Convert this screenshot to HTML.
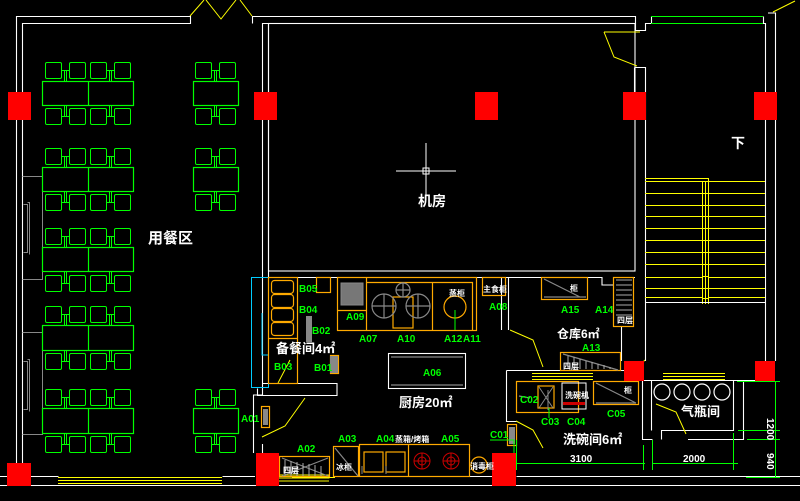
<!DOCTYPE html>
<html><head><meta charset="utf-8"><style>
html,body{margin:0;padding:0;background:#000;}
svg{display:block;}
text{font-family:"Liberation Sans","Noto Sans CJK SC",sans-serif;}
.g{fill:#0f0;font-size:10px;font-weight:bold;}
.w{fill:#fff;font-weight:bold;}
</style></head><body>
<svg width="800" height="501" viewBox="0 0 800 501" xmlns="http://www.w3.org/2000/svg">
<rect width="800" height="501" fill="#000"/>
<defs>
<g id="chairs2">
 <g fill="none" stroke="#0f0" stroke-width="1">
  <rect x="45.5" y="0.5" width="16" height="16" rx="1.5"/>
  <rect x="69.5" y="0.5" width="16" height="16" rx="1.5"/>
  <rect x="90.5" y="0.5" width="16" height="16" rx="1.5"/>
  <rect x="114.5" y="0.5" width="16" height="16" rx="1.5"/>
  <path d="M61.5 8.5H69.5M106.5 8.5H114.5M64.5 8.5V19M66.5 8.5V19M109.5 8.5V19M111.5 8.5V19"/>
 </g>
</g>
<g id="chairs1">
 <g fill="none" stroke="#0f0" stroke-width="1">
  <rect x="195.5" y="0.5" width="16" height="16" rx="1.5"/>
  <rect x="219.5" y="0.5" width="16" height="16" rx="1.5"/>
  <path d="M211.5 8.5H219.5M214.5 8.5V19M216.5 8.5V19"/>
 </g>
</g>
<g id="chairs2b">
 <g fill="none" stroke="#0f0" stroke-width="1">
  <rect x="45.5" y="3.5" width="16" height="16" rx="1.5"/>
  <rect x="69.5" y="3.5" width="16" height="16" rx="1.5"/>
  <rect x="90.5" y="3.5" width="16" height="16" rx="1.5"/>
  <rect x="114.5" y="3.5" width="16" height="16" rx="1.5"/>
  <path d="M61.5 11.5H69.5M106.5 11.5H114.5M64.5 0V11.5M66.5 0V11.5M109.5 0V11.5M111.5 0V11.5"/>
 </g>
</g>
<g id="chairs1b">
 <g fill="none" stroke="#0f0" stroke-width="1">
  <rect x="195.5" y="3.5" width="16" height="16" rx="1.5"/>
  <rect x="219.5" y="3.5" width="16" height="16" rx="1.5"/>
  <path d="M211.5 11.5H219.5M214.5 0V11.5M216.5 0V11.5"/>
 </g>
</g>
</defs>

<g fill="none" stroke="#fff" stroke-width="1.1">
 <path d="M16.5 485V16.5H190.5V23.5H22.5V463"/>
 <path d="M252.5 23.5V16.5H635.5V23.5H262.5V92"/>
 <path d="M268.5 92V23.5"/>
 <rect x="268.5" y="23.5" width="366.5" height="247.5"/>
 <path d="M635.5 23.5V30.5H645.5V23.5H651.5V16.5"/>
 <path d="M763.5 16.5V23.5H765.5V361M775.5 361V13H768"/>
 <path d="M634.5 67.5H645.5V361M634.5 67.5V92"/>
 <path d="M262.5 120V395H253.5V453M268.5 120V277"/>
 <path d="M0 476.5H58.5M0 485.5H800M222.5 476.5H255"/>
 <path d="M279 476.5H292M335 476.5H492"/>
 <path d="M516.5 476.5H800"/>
 <path d="M268.5 277.5H337M477 277.5H541M587 277.5H602V285H613M633 277.5H635"/>
 <path d="M257.5 388.5V395.5H337V383.5H262"/>
 <path d="M501.5 277.5V330M508.5 277.5V330"/>
 <path d="M633 326.5H621.5V361"/>
 <path d="M506.5 370.5V421.5H516.5"/>
 <path d="M506.5 370.5H560M620 370.5H624"/>
 <path d="M642.5 380.5V439.5H652.5M661.5 439.5V430.5H733.5V380.5M743.5 380.5V439.5H688"/>
 <path d="M651.5 380.5V430.5M642.5 380.5H775"/>
 <path d="M262.5 444V453"/>
 <rect x="388.5" y="353.5" width="77" height="35"/>
</g>
<path d="M651 16.5H763M651 23.5H763" stroke="#0f0" stroke-width="1"/>
<g fill="none" stroke="#ff0" stroke-width="1">
 <path d="M190 16L204 0M206 0L221 19L236 0M240 0L252 16"/>
 <path d="M604 32H640M604 32L614 57L637 66"/>
 <path d="M773 12L795 1"/>
 <path d="M58 477.5H222M58 480.5H222M58 483.5H222"/>
 <path d="M262 475H329V478H262M262 481H329"/>
 <path d="M292 477.5H335" />
 <path d="M305 398L285 426L262 437"/>
 <path d="M290 360L278 383"/>
 <path d="M510 330L533 340L543 367"/>
 <path d="M516 421L533 430L543 448"/>
 <path d="M532 373.5H593M532 376.5H593M532 379.5H593"/>
 <path d="M663 373.5H725M663 376.5H725M663 379.5H725"/>
 <path d="M656 404L676 412L686 434"/>
 <path d="M645 360L635 370"/>
</g>
<g stroke="#ff0" stroke-width="1" fill="none">
 <path d="M645 178.5H708.5V304"/>
 <path d="M702.5 181V304M705.5 181V304"/>
 <path d="M645 181.5H765M645 193.5H765M645 205.5H765M645 216.5H765M645 228.5H765M645 240.5H765M645 252.5H765M645 264.5H765M645 276.5H765M645 288.5H765M645 298.5H765"/>
</g>
<rect x="645" y="270" width="57" height="30" fill="#000"/>
<rect x="709" y="270" width="56" height="30" fill="#000"/>
<path d="M645.5 270V302.5H765M765.5 270V302" stroke="#fff" fill="none"/>
<g stroke="#ff0" fill="none"><path d="M645 277.5H702M645 288.5H702M645 297.5H702M709 277.5H765M709 288.5H765M709 297.5H765"/></g>

<g fill="none" stroke="#888" stroke-width="1">
 <path d="M22.5 176.5H42.5V279.5H22.5M23.5 204.5H27.5V252.5H23.5M27.5 202.5H29.5V254.5"/>
 <path d="M22.5 332.5H42.5V434.5H22.5M23.5 361.5H27.5V409.5H23.5M27.5 359.5H29.5V411.5"/>
</g>

<g fill="none" stroke="#0f0" stroke-width="1.2">
 <rect x="42.5" y="81.5" width="91" height="24"/><path d="M88.5 81.5V105.5"/>
 <rect x="193.5" y="81.5" width="45" height="24"/>
 <rect x="42.5" y="167.5" width="91" height="24"/><path d="M88.5 167.5V191.5"/>
 <rect x="193.5" y="167.5" width="45" height="24"/>
 <rect x="42.5" y="247.5" width="91" height="24"/><path d="M88.5 247.5V271.5"/>
 <rect x="42.5" y="325.5" width="91" height="25"/><path d="M88.5 325.5V350.5"/>
 <rect x="42.5" y="408.5" width="91" height="25"/><path d="M88.5 408.5V433.5"/>
 <rect x="193.5" y="408.5" width="45" height="25"/>
</g>
<use href="#chairs2" x="0" y="62"/><use href="#chairs2b" x="0" y="105"/>
<use href="#chairs1" x="0" y="62"/><use href="#chairs1b" x="0" y="105"/>
<use href="#chairs2" x="0" y="148"/><use href="#chairs2b" x="0" y="191"/>
<use href="#chairs1" x="0" y="148"/><use href="#chairs1b" x="0" y="191"/>
<use href="#chairs2" x="0" y="228"/><use href="#chairs2b" x="0" y="272"/>
<use href="#chairs2" x="0" y="306"/><use href="#chairs2b" x="0" y="350"/>
<use href="#chairs2" x="0" y="389"/><use href="#chairs2b" x="0" y="433"/>
<use href="#chairs1" x="0" y="389"/><use href="#chairs1b" x="0" y="433"/>

<g stroke="#fff" stroke-width="1"><path d="M396 171H456M426 143V200"/><rect x="423" y="168" width="6" height="6" fill="none"/></g>

<rect x="251.5" y="277.5" width="17" height="110" fill="none" stroke="#0cf"/>
<path d="M262 313V355H268" stroke="#0cf" fill="none"/>
<g fill="none" stroke="#fa0" stroke-width="1.2">
 <rect x="268.5" y="277.5" width="29" height="106"/>
 <path d="M268.5 338.5H297.5"/>
 <rect x="271.5" y="280.5" width="22" height="13" rx="3"/>
 <rect x="271.5" y="294.5" width="22" height="13" rx="3"/>
 <rect x="271.5" y="308.5" width="22" height="13" rx="3"/>
 <rect x="271.5" y="322.5" width="22" height="13" rx="3"/>
 <rect x="316.5" y="277.5" width="14" height="15"/>
 <rect x="330.5" y="355.5" width="8" height="18"/>
 <rect x="337.5" y="277.5" width="139" height="53"/>
 <path d="M337.5 310.5H366.5M366.5 277.5V330M366.5 282.5H472.5V330M432.5 282.5V330M472.5 282.5V330"/>
 <rect x="393" y="297" width="20" height="31"/>
 <rect x="482.5" y="277.5" width="23" height="18"/>
 <rect x="261.5" y="406.5" width="8" height="21"/>
 <rect x="507.5" y="424.5" width="9" height="21"/>
 <rect x="333.5" y="446.5" width="25" height="30"/>
 <rect x="359.5" y="444.5" width="110" height="32"/>
 <path d="M408.5 444.5V476.5"/>
 <rect x="364" y="452" width="19" height="20"/><rect x="386" y="452" width="19" height="20"/>
 <rect x="541.5" y="277.5" width="46" height="22"/>
 <rect x="613.5" y="277.5" width="20" height="49"/>
 <rect x="560.5" y="352.5" width="60" height="18"/>
 <rect x="279.5" y="456.5" width="50" height="20"/>
 <rect x="516.5" y="381.5" width="62" height="31"/>
 <rect x="593.5" y="381.5" width="45" height="23"/>
 <rect x="538" y="386" width="16" height="22"/>
 <circle cx="479" cy="465" r="8"/>
</g>
<path d="M386 466V474M362 466V474" stroke="#888"/>
<rect x="341" y="283" width="22" height="22" fill="#777" stroke="#888"/>
<rect x="306" y="316" width="6" height="26" fill="#888"/>
<rect x="330" y="356" width="8" height="17" fill="#888"/>
<rect x="263" y="409" width="5" height="16" fill="#888"/>
<rect x="509" y="427" width="6" height="17" fill="#888"/>
<g fill="none" stroke="#888" stroke-width="1.2">
 <circle cx="384" cy="306" r="12"/><path d="M372 306H396M384 294V318"/>
 <circle cx="418" cy="306" r="12"/><path d="M406 306H430M418 294V318"/>
 <circle cx="403" cy="290" r="7"/><path d="M396 290H410M403 283V297"/>
 <path d="M391 357H463M391 385H463"/>
 <path d="M544 279L580 297M544 297H586"/>
 <path d="M596 383L636 403M596 403H636"/>
 <path d="M282 458L328 476M282 476L328 458"/>
 <path d="M563 354L618 370"/>
 <path d="M616 280H632M616 285H632M616 290H632M616 295H632M616 300H632M616 305H632M616 310H632M616 315H632"/>
 <path d="M335 448L358 476"/>
 <path d="M519 396L530 398"/>
</g>
<g stroke="#aaa" stroke-width="1">
 <path d="M285 460V476M291 461V476M297 462V476M303 463V476M309 464V476M315 465V476M321 466V476"/>
 <path d="M568 356V369M574 357V369M580 359V369M586 361V369M592 362V369M598 364V369M604 365V369M610 367V369"/>
</g>
<circle cx="455" cy="307" r="11" fill="none" stroke="#fa0" stroke-width="1.2"/>
<path d="M455 310V330" stroke="#0f0"/>
<g fill="none" stroke="#c00" stroke-width="1">
 <circle cx="422" cy="461" r="8"/><circle cx="422" cy="461" r="4"/><path d="M414 461H430M422 453V469"/>
 <circle cx="451" cy="461" r="8"/><circle cx="451" cy="461" r="4"/><path d="M443 461H459M451 453V469"/>
</g>
<rect x="562" y="383" width="24" height="26" fill="none" stroke="#fff"/>
<rect x="563" y="402" width="22" height="3" fill="#c00"/>
<path d="M548 390L548 410M539 387L553 408M553 387L539 408" stroke="#888"/>
<path d="M549 408V418" stroke="#0f0"/>
<g fill="none" stroke="#fff" stroke-width="1.2">
 <circle cx="662" cy="392" r="8"/><circle cx="682" cy="392" r="8"/><circle cx="702" cy="392" r="8"/><circle cx="722" cy="392" r="8"/>
</g>
<g stroke="#0f0" stroke-width="1" fill="none">
 <path d="M513 463.5H645M652 463.5H738M516.5 440V470M643.5 445V470M652.5 440V470M733.5 433V470"/>
 <path d="M775.5 381V478M737 381.5H780M738 430.5H780M747 439.5H780M746 477.5H780"/>
 <path d="M490 440H514V470"/>
</g>
<g fill="#f00">
 <rect x="8" y="92" width="23" height="28"/><rect x="254" y="92" width="23" height="28"/>
 <rect x="475" y="92" width="23" height="28"/><rect x="623" y="92" width="23" height="28"/>
 <rect x="754" y="92" width="23" height="28"/>
 <rect x="7" y="463" width="24" height="23"/><rect x="256" y="453" width="23" height="33"/>
 <rect x="492" y="453" width="24" height="33"/>
 <rect x="624" y="361" width="20" height="20"/><rect x="755" y="361" width="20" height="20"/>
</g>
<text x="148" y="243" class="w" font-size="15">用餐区</text>
<text x="418" y="206" class="w" font-size="14">机房</text>
<text x="731" y="148" class="w" font-size="14">下</text>
<text x="399" y="407" class="w" font-size="13">厨房20㎡</text>
<text x="276" y="353" class="w" font-size="13">备餐间4㎡</text>
<text x="557" y="338" class="w" font-size="12">仓库6㎡</text>
<text x="563" y="444" class="w" font-size="13">洗碗间6㎡</text>
<text x="681" y="416" class="w" font-size="13">气瓶间</text>
<text x="570" y="462" class="w" font-size="10">3100</text>
<text x="683" y="462" class="w" font-size="10">2000</text>
<text transform="translate(767,418) rotate(90)" class="w" font-size="10">1200</text>
<text transform="translate(767,453) rotate(90)" class="w" font-size="10">940</text>
<g class="w" font-size="8">
 <text x="449" y="296">蒸柜</text><text x="483" y="292">主食柜</text>
 <text x="617" y="323">四层</text><text x="563" y="369">四层</text>
 <text x="283" y="473">四层</text><text x="336" y="470">冰柜</text>
 <text x="395" y="442">蒸箱/烤箱</text><text x="470" y="469">消毒柜</text>
 <text x="565" y="398">洗碗机</text><text x="570" y="291">柜</text><text x="624" y="393">柜</text>
</g>
<g class="g">
 <text x="299" y="292">B05</text><text x="299" y="313">B04</text><text x="312" y="334">B02</text>
 <text x="274" y="370">B03</text><text x="314" y="371">B01</text>
 <text x="346" y="320">A09</text><text x="359" y="342">A07</text><text x="397" y="342">A10</text>
 <text x="444" y="342">A12</text><text x="463" y="342">A11</text>
 <text x="489" y="310">A08</text><text x="423" y="376">A06</text>
 <text x="241" y="422">A01</text><text x="297" y="452">A02</text><text x="338" y="442">A03</text>
 <text x="376" y="442">A04</text><text x="441" y="442">A05</text>
 <text x="490" y="438">C01</text>
 <text x="561" y="313">A15</text><text x="595" y="313">A14</text><text x="582" y="351">A13</text>
 <text x="520" y="403">C02</text><text x="541" y="425">C03</text><text x="567" y="425">C04</text>
 <text x="607" y="417">C05</text>
</g>
</svg>
</body></html>
